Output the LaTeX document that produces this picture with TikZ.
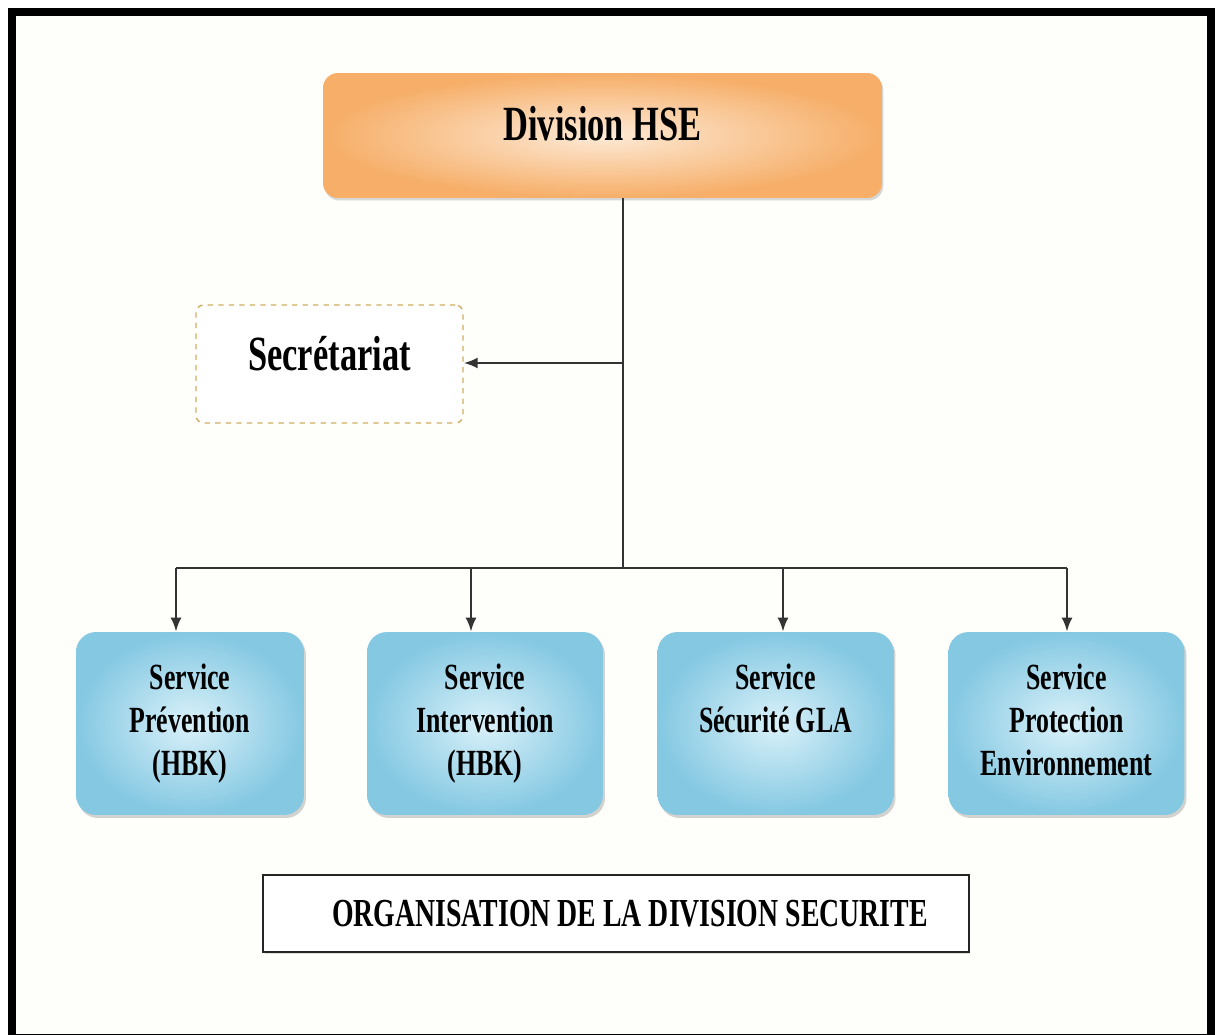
\documentclass[tikz,border=0pt]{standalone}
\usepackage{fontspec}
\setmainfont{Liberation Serif}[FakeStretch=0.7]
\usetikzlibrary{arrows.meta,shadows}

\definecolor{hseorange}{HTML}{F6AE68}
\definecolor{hselight}{HTML}{FDEAD6}
\definecolor{srvblue}{HTML}{84C8E2}
\definecolor{srvlight}{HTML}{DAF1F9}
\definecolor{secgold}{HTML}{CFAE62}
\definecolor{paper}{HTML}{FEFEFA}

\tikzset{
  link/.style={draw=black!80, line width=1.4pt},
  tip/.style={-{Latex[length=0.28cm, width=0.22cm]}},
  headbox/.style={rounded corners=0.3cm, inner color=hselight, outer color=hseorange,
    minimum width=11.18cm, minimum height=2.5cm, text height=20pt, text depth=14pt,
    font=\bfseries\fontsize{28}{32}\selectfont,
    drop shadow={shadow xshift=0.03cm, shadow yshift=-0.05cm, opacity=0.3}},
  secbox/.style={draw=secgold, dashed, line width=0.8pt, rounded corners=0.15cm, fill=white,
    minimum width=5.34cm, minimum height=2.36cm, text height=20pt, text depth=13pt,
    font=\bfseries\fontsize{28}{32}\selectfont},
  servbox/.style={rounded corners=0.4cm, inner color=srvlight, outer color=srvblue,
    minimum width=4.72cm, minimum height=3.66cm, align=center,
    font=\bfseries\fontsize{21}{24.4}\selectfont,
    drop shadow={shadow xshift=0.04cm, shadow yshift=-0.06cm, opacity=0.35}},
  capbox/.style={draw=black!85, line width=1.4pt, fill=white,
    minimum width=14.12cm, minimum height=1.54cm,
    font=\bfseries\fontsize{22.6}{26}\selectfont,
    drop shadow={shadow xshift=0.03cm, shadow yshift=-0.04cm, opacity=0.25}}
}

\begin{document}
\begin{tikzpicture}[x=0.02cm, y=-0.02cm]

    \useasboundingbox (0, 0) rectangle (1215, 1035);
    \fill[white] (0, 0) rectangle (1215, 1035);
    \fill[paper] (16, 16) rectangle (1207, 1034);
    \draw[black, line width=0.16cm] (12, 12) rectangle (1211, 1038);

    \node[headbox] (hse) at (602.5, 135.5) {Division HSE};

    \node[secbox] (sec) at (329.5, 364) {Secrétariat};

    \node[servbox, minimum width=4.56cm] (sprev) at (190, 723.5) {Service\\Prévention\\(HBK)};
    \node[servbox] (sint) at (485, 723.5) {Service\\Intervention\\(HBK)};
    \node[servbox] (ssec) at (775.5, 723.5) {Service\\Sécurité GLA\\\phantom{(HBK)}};
    \node[servbox] (sprot) at (1066.5, 723.5) {Service\\Protection\\Environnement\vphantom{()}};

    \node[capbox] (caption) at (616, 913.5) {\hspace*{0.56cm}ORGANISATION DE LA DIVISION SECURITE};

    % trunk
    \coordinate (jsec) at (623, 363);
    \coordinate (jbus) at (623, 568);
    \path[link] (jsec |- hse.south) to (jbus);
    \path[link, tip] (jsec) to (jsec -| sec.east);

    % bus to services
    \coordinate (tprev) at (176, 568);
    \coordinate (tint) at (471, 568);
    \coordinate (tsec) at (783, 568);
    \coordinate (tprot) at (1067, 568);
    \path[link] (tprev) to (tprot);

    \path[link, tip] (tprev) to (tprev |- sprev.north);
    \path[link, tip] (tint) to (tint |- sint.north);
    \path[link, tip] (tsec) to (tsec |- ssec.north);
    \path[link, tip] (tprot) to (tprot |- sprot.north);

\end{tikzpicture}
\end{document}
